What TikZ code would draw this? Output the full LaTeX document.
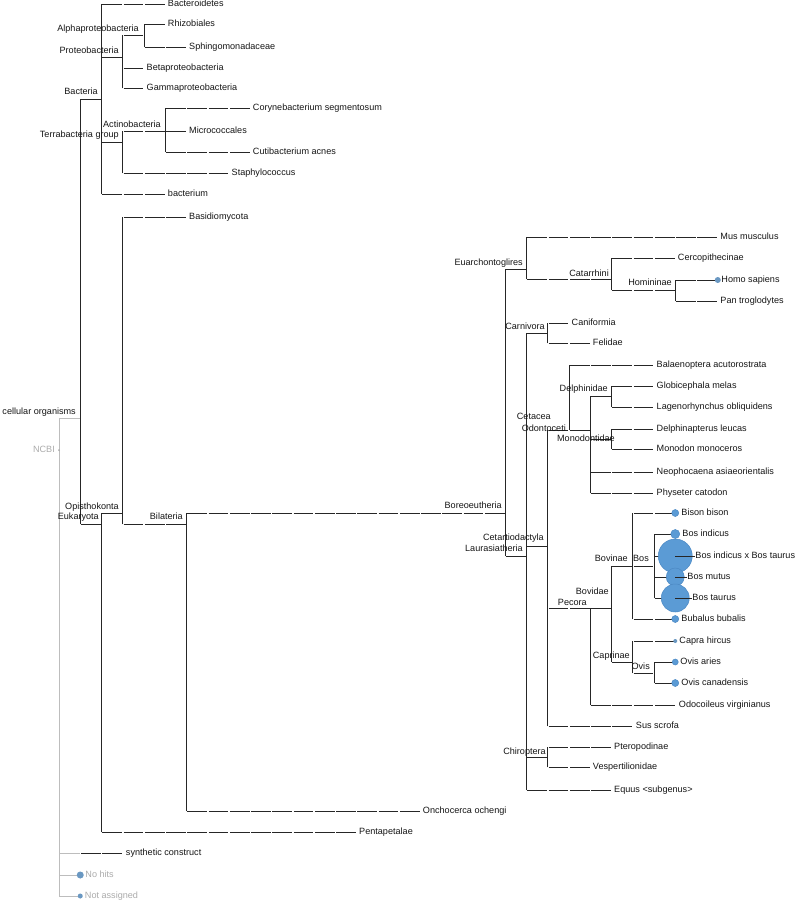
\documentclass[tikz,border=0pt]{standalone}
\usepackage{fontspec}
\setmainfont{Liberation Sans}
\definecolor{linec}{HTML}{262626}
\definecolor{grayl}{HTML}{BDBDBD}
\definecolor{grayt}{HTML}{ABABAB}
\definecolor{textc}{HTML}{151515}
\definecolor{bub}{HTML}{5B9BD5}
\definecolor{bubd}{HTML}{4C89C4}
\definecolor{dotc}{HTML}{6A98C2}
\tikzset{
  vl/.style={draw=linec, line width=0.9pt, line cap=rect},
  hl/.style={draw=linec, line width=0.9pt, dash pattern=on 19.75pt off 1.5pt, dash phase=20.5pt},
  gl/.style={draw=grayl, line width=0.9pt},
  txt/.style={font=\fontsize{9.1}{10}\selectfont, text=textc, inner sep=0pt},
  leaflbl/.style={txt, anchor=mid west},
  inlbl/.style={txt, anchor=mid east},
  bubble/.style={fill=bub, draw=bubd, line width=0.5pt},
  smalldot/.style={fill=dotc, draw=none},
}
\begin{document}
\begin{tikzpicture}[x=1pt, y=-1pt]
\useasboundingbox (0,0) rectangle (800,902);
% ---------- internal nodes ----------
\coordinate (ncbi) at (59,450);
\coordinate (cell) at (80.25,418);
\coordinate (bact) at (101.5,99);
\coordinate (prot) at (122.75,57);
\coordinate (alph) at (144,35);
\coordinate (terr) at (122.75,142);
\coordinate (acti) at (165.25,131);
\coordinate (euka) at (101.5,524);
\coordinate (opis) at (122.75,513);
\coordinate (bila) at (186.5,524);
\coordinate (bore) at (505.25,513);
\coordinate (euar) at (526.5,269);
\coordinate (cata) at (611.5,279);
\coordinate (homi) at (675.25,290);
\coordinate (laur) at (526.5,556);
\coordinate (carn) at (547.75,333);
\coordinate (cart) at (547.75,546);
\coordinate (cetc) at (569,430);
\coordinate (odon) at (590.25,430);
\coordinate (delp) at (611.5,396);
\coordinate (mono) at (611.5,439);
\coordinate (peco) at (590.25,608);
\coordinate (bovi) at (611.5,608);
\coordinate (bovn) at (632.75,566);
\coordinate (bos) at (654,566);
\coordinate (capr) at (632.75,662);
\coordinate (ovis) at (654,673);
\coordinate (chir) at (547.75,757);
% ---------- leaves ----------
\coordinate (bactd) at (165.25,4);
\coordinate (rhiz) at (165.25,24);
\coordinate (sphi) at (186.5,47);
\coordinate (beta) at (144,68);
\coordinate (gamm) at (144,88);
\coordinate (cory) at (250.25,108);
\coordinate (micr) at (186.5,131);
\coordinate (cuti) at (250.25,152);
\coordinate (stap) at (229,173);
\coordinate (bctm) at (165.25,194);
\coordinate (basi) at (186.5,217);
\coordinate (onch) at (420.25,811);
\coordinate (pent) at (356.5,832);
\coordinate (synt) at (122.75,853);
\coordinate (nohit) at (80.25,875);
\coordinate (notas) at (80.25,896);
\coordinate (mus) at (717.75,237);
\coordinate (cerc) at (675.25,258);
\coordinate (homo) at (717.75,280);
\coordinate (pan) at (717.75,301);
\coordinate (cani) at (569,323);
\coordinate (feli) at (590.25,343);
\coordinate (bala) at (654,365);
\coordinate (glob) at (654,386);
\coordinate (lage) at (654,407);
\coordinate (delu) at (654,429);
\coordinate (monm) at (654,449);
\coordinate (neop) at (654,472);
\coordinate (phys) at (654,493);
\coordinate (biso) at (675.25,513);
\coordinate (bind) at (675.25,534);
\coordinate (bixt) at (675.25,556);
\coordinate (bmut) at (675.25,577);
\coordinate (btau) at (675.25,598);
\coordinate (buba) at (675.25,619);
\coordinate (capa) at (675.25,641);
\coordinate (oari) at (675.25,662);
\coordinate (ocan) at (675.25,683);
\coordinate (odoc) at (675.25,705);
\coordinate (sus) at (632.75,726);
\coordinate (pter) at (611.5,747);
\coordinate (vesp) at (590.25,767);
\coordinate (equu) at (611.5,790);
% ---------- gray root part ----------
\draw[gl] (ncbi |- cell) -- (ncbi |- notas);
\draw[gl] (ncbi |- cell) -- (cell);
\draw[gl] (ncbi |- synt) -- (cell |- synt);
\draw[gl] (ncbi |- nohit) -- (nohit);
\draw[gl] (ncbi |- notas) -- (notas);
\fill[grayt] (ncbi) circle (1pt);
% ---------- vertical lines ----------
\draw[vl] (cell |- bact) -- (cell |- euka);
\draw[vl] (bact |- bactd) -- (bact |- bctm);
\draw[vl] (prot |- alph) -- (prot |- gamm);
\draw[vl] (alph |- rhiz) -- (alph |- sphi);
\draw[vl] (terr |- acti) -- (terr |- stap);
\draw[vl] (acti |- cory) -- (acti |- cuti);
\draw[vl] (euka |- opis) -- (euka |- pent);
\draw[vl] (opis |- basi) -- (opis |- bila);
\draw[vl] (bila |- bore) -- (bila |- onch);
\draw[vl] (bore |- euar) -- (bore |- laur);
\draw[vl] (euar |- mus) -- (euar |- cata);
\draw[vl] (cata |- cerc) -- (cata |- homi);
\draw[vl] (homi |- homo) -- (homi |- pan);
\draw[vl] (laur |- carn) -- (laur |- equu);
\draw[vl] (carn |- cani) -- (carn |- feli);
\draw[vl] (cart |- cetc) -- (cart |- sus);
\draw[vl] (cetc |- bala) -- (cetc |- odon);
\draw[vl] (odon |- delp) -- (odon |- phys);
\draw[vl] (delp |- glob) -- (delp |- lage);
\draw[vl] (mono |- delu) -- (mono |- monm);
\draw[vl] (peco |- bovi) -- (peco |- odoc);
\draw[vl] (bovi |- bovn) -- (bovi |- capr);
\draw[vl] (bovn |- biso) -- (bovn |- buba);
\draw[vl] (bos |- bind) -- (bos |- btau);
\draw[vl] (capr |- capa) -- (capr |- ovis);
\draw[vl] (ovis |- oari) -- (ovis |- ocan);
\draw[vl] (chir |- pter) -- (chir |- vesp);
% ---------- horizontal connectors ----------
\foreach \p/\c in {cell/bact, cell/euka,
  bact/bactd, bact/prot, bact/terr, bact/bctm,
  prot/alph, prot/beta, prot/gamm, alph/rhiz, alph/sphi,
  terr/acti, terr/stap, acti/cory, acti/micr, acti/cuti,
  euka/opis, euka/pent, opis/basi, opis/bila, bila/bore, bila/onch,
  bore/euar, bore/laur, euar/mus, euar/cata, cata/cerc, cata/homi,
  homi/homo, homi/pan, laur/carn, laur/cart, laur/chir, laur/equu,
  carn/cani, carn/feli, cart/cetc, cart/peco, cart/sus,
  cetc/bala, cetc/odon, odon/delp, odon/mono, odon/neop, odon/phys,
  delp/glob, delp/lage, mono/delu, mono/monm,
  peco/bovi, peco/odoc, bovi/bovn, bovi/capr,
  bovn/biso, bovn/bos, bovn/buba, bos/bind, bos/bixt, bos/bmut, bos/btau,
  capr/capa, capr/ovis, ovis/oari, ovis/ocan,
  chir/pter, chir/vesp}
  \draw[hl] (\p |- \c) -- (\c);
\draw[hl] (cell |- synt) -- (synt);
% ---------- bubbles ----------
\fill[smalldot] (homo) circle (3pt);
\fill[bubble] (biso) circle (3.5pt);
\fill[bubble] (bind) circle (4.5pt);
\fill[bubble] (bixt) circle (17pt);
\fill[bubble] (bmut) circle (9pt);
\fill[bubble] (btau) circle (14pt);
\fill[bubble] (buba) circle (3.5pt);
\fill[smalldot] (capa) circle (2pt);
\fill[bubble] (oari) circle (3pt);
\fill[bubble] (ocan) circle (3.5pt);
\fill[dotc] (nohit) circle (3.5pt);
\fill[dotc] (notas) circle (2.5pt);
% ---------- leaf labels ----------
\node[leaflbl] (bactd-t) at ([xshift=2.5pt]bactd) {Bacteroidetes};
\node[leaflbl] (rhiz-t) at ([xshift=2.5pt]rhiz) {Rhizobiales};
\node[leaflbl] (sphi-t) at ([xshift=2.5pt]sphi) {Sphingomonadaceae};
\node[leaflbl] (beta-t) at ([xshift=2.5pt]beta) {Betaproteobacteria};
\node[leaflbl] (gamm-t) at ([xshift=2.5pt]gamm) {Gammaproteobacteria};
\node[leaflbl] (cory-t) at ([xshift=2.5pt]cory) {Corynebacterium segmentosum};
\node[leaflbl] (micr-t) at ([xshift=2.5pt]micr) {Micrococcales};
\node[leaflbl] (cuti-t) at ([xshift=2.5pt]cuti) {Cutibacterium acnes};
\node[leaflbl] (stap-t) at ([xshift=2.5pt]stap) {Staphylococcus};
\node[leaflbl] (bctm-t) at ([xshift=2.5pt]bctm) {bacterium};
\node[leaflbl] (basi-t) at ([xshift=2.5pt]basi) {Basidiomycota};
\node[leaflbl] (onch-t) at ([xshift=2.5pt]onch) {Onchocerca ochengi};
\node[leaflbl] (pent-t) at ([xshift=2.5pt]pent) {Pentapetalae};
\node[leaflbl] (synt-t) at ([xshift=3pt]synt) {synthetic construct};
\node[leaflbl, text=grayt] (nohit-t) at ([xshift=5pt]nohit) {No hits};
\node[leaflbl, text=grayt] (notas-t) at ([xshift=4.5pt]notas) {Not assigned};
\node[leaflbl] (mus-t) at ([xshift=2.5pt]mus) {Mus musculus};
\node[leaflbl] (cerc-t) at ([xshift=2.5pt]cerc) {Cercopithecinae};
\node[leaflbl] (homo-t) at ([xshift=3.5pt]homo) {Homo sapiens};
\node[leaflbl] (pan-t) at ([xshift=2.5pt]pan) {Pan troglodytes};
\node[leaflbl] (cani-t) at ([xshift=2.5pt]cani) {Caniformia};
\node[leaflbl] (feli-t) at ([xshift=2.5pt]feli) {Felidae};
\node[leaflbl] (bala-t) at ([xshift=2.5pt]bala) {Balaenoptera acutorostrata};
\node[leaflbl] (glob-t) at ([xshift=2.5pt]glob) {Globicephala melas};
\node[leaflbl] (lage-t) at ([xshift=2.5pt]lage) {Lagenorhynchus obliquidens};
\node[leaflbl] (delu-t) at ([xshift=2.5pt]delu) {Delphinapterus leucas};
\node[leaflbl] (monm-t) at ([xshift=2.5pt]monm) {Monodon monoceros};
\node[leaflbl] (neop-t) at ([xshift=2.5pt]neop) {Neophocaena asiaeorientalis};
\node[leaflbl] (phys-t) at ([xshift=2.5pt]phys) {Physeter catodon};
\node[leaflbl] (biso-t) at ([xshift=6pt]biso) {Bison bison};
\node[leaflbl] (bind-t) at ([xshift=7pt]bind) {Bos indicus};
\node[leaflbl] (bixt-t) at ([xshift=20pt]bixt) {Bos indicus x Bos taurus};
\node[leaflbl] (bmut-t) at ([xshift=12pt]bmut) {Bos mutus};
\node[leaflbl] (btau-t) at ([xshift=17pt]btau) {Bos taurus};
\node[leaflbl] (buba-t) at ([xshift=6pt]buba) {Bubalus bubalis};
\node[leaflbl] (capa-t) at ([xshift=4pt]capa) {Capra hircus};
\node[leaflbl] (oari-t) at ([xshift=5pt]oari) {Ovis aries};
\node[leaflbl] (ocan-t) at ([xshift=6pt]ocan) {Ovis canadensis};
\node[leaflbl] (odoc-t) at ([xshift=3.5pt]odoc) {Odocoileus virginianus};
\node[leaflbl] (sus-t) at ([xshift=3pt]sus) {Sus scrofa};
\node[leaflbl] (pter-t) at ([xshift=2.5pt]pter) {Pteropodinae};
\node[leaflbl] (vesp-t) at ([xshift=2.5pt]vesp) {Vespertilionidae};
\node[leaflbl] (equu-t) at ([xshift=2.5pt]equu) {Equus <subgenus>};
% lines from bubble centre to label, drawn over the bubbles
\foreach \b in {bixt, bmut, btau}
  \draw[linec, line width=0.9pt] (\b) -- ([xshift=-0.5pt]\b-t.mid west);
% ---------- internal labels ----------
\node[inlbl, text=grayt] (ncbi-t) at (55,450) {NCBI};
\node[inlbl] (cell-t) at (76,412) {cellular organisms};
\node[inlbl] (bact-t) at (98,92) {Bacteria};
\node[inlbl] (prot-t) at (119,51) {Proteobacteria};
\node[inlbl] (alph-t) at (139,29) {Alphaproteobacteria};
\node[inlbl] (terr-t) at (119,135) {Terrabacteria group};
\node[inlbl] (acti-t) at (161,125) {Actinobacteria};
\node[inlbl] (euka-t) at (99,517) {Eukaryota};
\node[inlbl] (opis-t) at (119,507) {Opisthokonta};
\node[inlbl] (bila-t) at (183,517) {Bilateria};
\node[inlbl] (bore-t) at (502,506) {Boreoeutheria};
\node[inlbl] (euar-t) at (523,263) {Euarchontoglires};
\node[inlbl] (cata-t) at (609,274) {Catarrhini};
\node[inlbl] (homi-t) at (672,283) {Homininae};
\node[inlbl] (laur-t) at (523,549) {Laurasiatheria};
\node[inlbl] (carn-t) at (545,327) {Carnivora};
\node[inlbl] (cart-t) at (544,538) {Cetartiodactyla};
\node[inlbl] (cetc-t) at (551,417) {Cetacea};
\node[inlbl] (odon-t) at (566,429) {Odontoceti};
\node[inlbl] (delp-t) at (608,389) {Delphinidae};
\node[inlbl] (mono-t) at (615,439) {Monodontidae};
\node[inlbl] (peco-t) at (587,603) {Pecora};
\node[inlbl] (bovi-t) at (609,592) {Bovidae};
\node[inlbl] (bovn-t) at (628,559) {Bovinae};
\node[inlbl] (bos-t) at (649,559) {Bos};
\node[inlbl] (capr-t) at (630,656) {Caprinae};
\node[inlbl] (ovis-t) at (650,667) {Ovis};
\node[inlbl] (chir-t) at (546,752) {Chiroptera};
\end{tikzpicture}
\end{document}
